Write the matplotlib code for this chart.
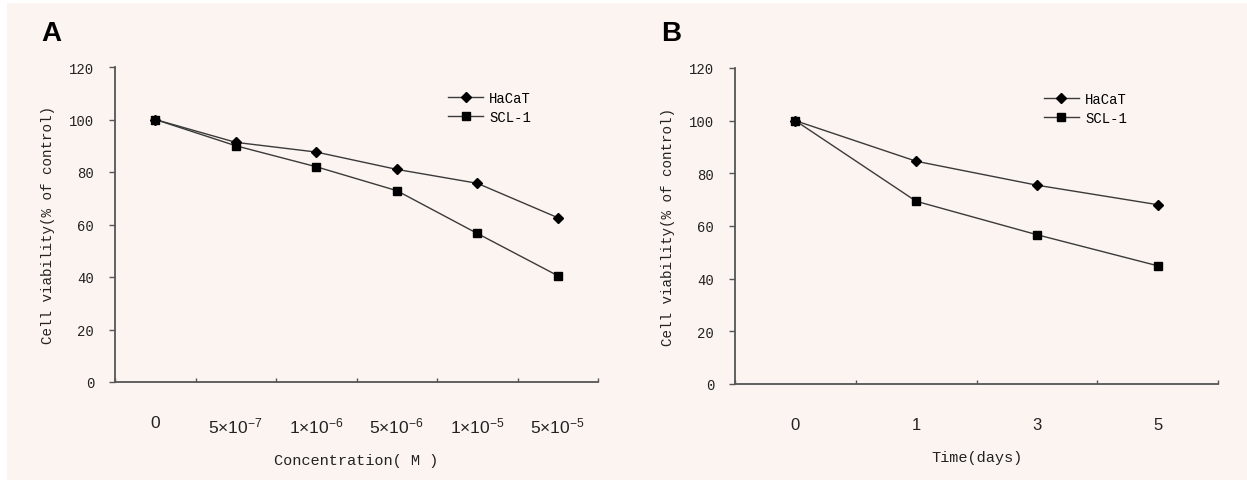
import matplotlib
matplotlib.use("Agg")
import matplotlib.pyplot as plt
from matplotlib.patches import Rectangle

# ---- data ----
conc_labels = ["0", r"5$\times$10$^{-7}$", r"1$\times$10$^{-6}$", r"5$\times$10$^{-6}$",
               r"1$\times$10$^{-5}$", r"5$\times$10$^{-5}$"]
conc_hacat = [100, 91.3, 87.6, 81.0, 75.7, 62.6]
conc_scl1 = [100, 90.0, 82.0, 72.9, 56.6, 40.5]

time_labels = ["0", "1", "3", "5"]
time_hacat = [100, 84.6, 75.5, 68.1]
time_scl1 = [100, 69.4, 56.7, 44.9]

series_names = ["HaCaT", "SCL-1"]
yticks = [0, 20, 40, 60, 80, 100, 120]

plt.rcParams["mathtext.fontset"] = "custom"
plt.rcParams["mathtext.rm"] = "Liberation Sans"
plt.rcParams["mathtext.it"] = "Liberation Sans"
plt.rcParams["mathtext.bf"] = "Liberation Sans:bold"

BG = "#fcf4f1"
W, H = 1247, 481
fig = plt.figure(figsize=(W / 100, H / 100), dpi=100)
fig.patch.set_facecolor("white")
fig.patches.append(Rectangle((7 / W, 0), 1, 1 - 4 / H, transform=fig.transFigure,
                             facecolor=BG, edgecolor="none", zorder=-10))

mono = "Liberation Mono"
sans = "Liberation Sans"
line_col = "#3a3a3a"
axis_col = "#555555"


def panel(rect, labels, hacat, scl1, xlabel, letter, letter_x, legend_x, tick_fs):
    ax = fig.add_axes(rect)
    ax.set_facecolor("none")
    n = len(labels)
    xs = [i + 0.5 for i in range(n)]
    ax.plot(xs, hacat, color=line_col, lw=1.0, marker="D", ms=5,
            mfc="black", mec="black", label=series_names[0])
    ax.plot(xs, scl1, color=line_col, lw=1.0, marker="s", ms=6,
            mfc="black", mec="black", label=series_names[1])
    ax.set_xlim(0, n)
    ax.set_ylim(0, 120)
    for s in ["top", "right"]:
        ax.spines[s].set_visible(False)
    for s in ["left", "bottom"]:
        ax.spines[s].set_color(axis_col)
        ax.spines[s].set_linewidth(1.3)
    ax.set_yticks(yticks)
    ax.set_yticklabels([str(v) for v in yticks], fontfamily=mono, fontsize=10)
    ax.tick_params(axis="y", direction="out", length=4, width=1, color=axis_col,
                   pad=11, labelcolor="#222222")
    ax.set_xticks(range(n + 1))
    ax.set_xticklabels([])
    ax.tick_params(axis="x", which="major", direction="in", length=3, width=1,
                   color=axis_col)
    ax.set_xticks(xs, minor=True)
    ax.set_xticklabels(labels, minor=True, fontfamily=sans, fontsize=tick_fs,
                       color="#222222")
    ax.tick_params(axis="x", which="minor", length=0, pad=24)
    ax.set_xlabel(xlabel, fontfamily=mono, fontsize=11, labelpad=13, color="#222222")
    ax.set_ylabel("Cell viability(% of control)", fontfamily=mono, fontsize=10.3,
                  labelpad=10, color="#222222")
    ax.legend(loc="upper left", bbox_to_anchor=(legend_x, 0.925), frameon=False,
              prop={"family": mono, "size": 10}, handlelength=2.5,
              handletextpad=0.45, borderpad=0, borderaxespad=0,
              labelspacing=0.4)
    fig.text(letter_x / W, 1 - 34 / H, letter, fontfamily=sans, fontweight="bold",
             fontsize=20, ha="left", va="center")
    return ax


panel([115 / W, 98 / H, 483 / W, 315 / H], conc_labels, conc_hacat, conc_scl1,
      "Concentration( M )", "A", 41, 0.69, 12.5)
panel([735 / W, 96 / H, 483 / W, 316 / H], time_labels, time_hacat, time_scl1,
      "Time(days)", "B", 661, 0.64, 12)

fig.savefig("out.png", dpi=100, facecolor=fig.get_facecolor())
